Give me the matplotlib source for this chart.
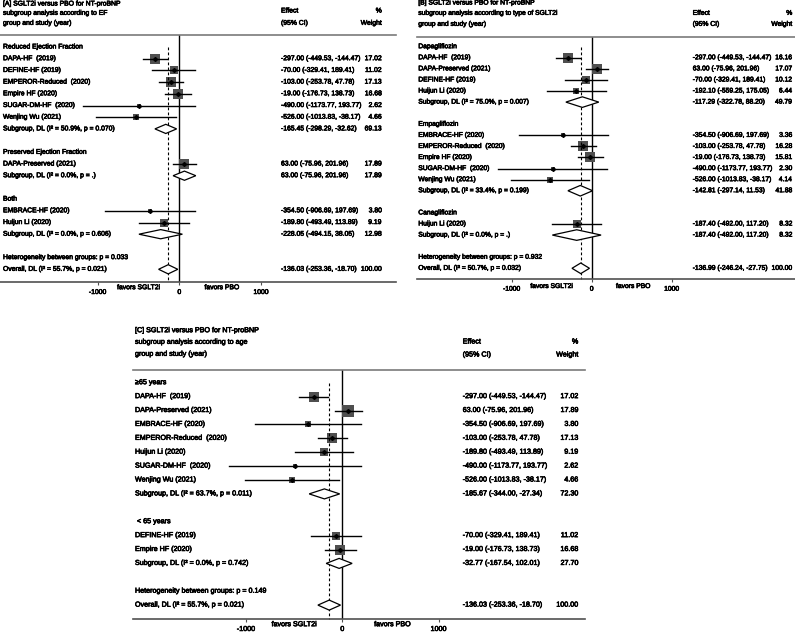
import matplotlib
matplotlib.use("Agg")
import matplotlib.pyplot as plt
import matplotlib.patheffects as pe
from matplotlib.patches import Polygon
from matplotlib.transforms import blended_transform_factory

plt.rcParams["font.family"] = ["Liberation Sans", "DejaVu Sans"]

W, H, DPI = 795, 633, 100

# ----------------------------------------
# Panel A : by ejection fraction
# ----------------------------------------
a_title = ["[A] SGLT2i versus PBO for NT-proBNP",
           "subgroup analysis according to EF",
           "group and study (year)"]
a_labels = ["Reduced Ejection Fraction", "DAPA-HF  (2019)", "DEFINE-HF (2019)",
            "EMPEROR-Reduced  (2020)", "Empire HF (2020)", "SUGAR-DM-HF  (2020)",
            "Wenjing Wu (2021)", "Subgroup, DL (I² = 50.9%, p = 0.070)", "",
            "Preserved Ejection Fraction", "DAPA-Preserved (2021)",
            "Subgroup, DL (I² = 0.0%, p = .)", "",
            "Both", "EMBRACE-HF (2020)", "Huijun Li (2020)",
            "Subgroup, DL (I² = 0.0%, p = 0.606)", "",
            "Heterogeneity between groups: p = 0.033",
            "Overall, DL (I² = 55.7%, p = 0.021)"]
a_kind = ["g", "s", "s", "s", "s", "s", "s", "d", "",
          "g", "s", "d", "",
          "g", "s", "s", "d", "",
          "t", "o"]
a_est = [None, -297.00, -70.00, -103.00, -19.00, -490.00, -526.00, -165.45, None,
         None, 63.00, 63.00, None,
         None, -354.50, -189.80, -228.05, None,
         None, -136.03]
a_lo = [None, -449.53, -329.41, -253.78, -176.73, -1173.77, -1013.83, -298.29, None,
        None, -75.96, -75.96, None,
        None, -906.69, -493.49, -494.15, None,
        None, -253.36]
a_hi = [None, -144.47, 189.41, 47.78, 138.73, 193.77, -38.17, -32.62, None,
        None, 201.96, 201.96, None,
        None, 197.69, 113.89, 38.05, None,
        None, -18.70]
a_wt = [None, 17.02, 11.02, 17.13, 16.68, 2.62, 4.66, 69.13, None,
        None, 17.89, 17.89, None,
        None, 3.80, 9.19, 12.98, None,
        None, 100.00]

# ----------------------------------------
# Panel B : by type of SGLT2i
# ----------------------------------------
b_title = ["[B] SGLT2i versus PBO for NT-proBNP",
           "subgroup analysis according to type of SGLT2i",
           "group and study (year)"]
b_labels = ["Dapagliflozin", "DAPA-HF  (2019)", "DAPA-Preserved (2021)",
            "DEFINE-HF (2019)", "Huijun Li (2020)",
            "Subgroup, DL (I² = 75.0%, p = 0.007)", "",
            "Empagliflozin", "EMBRACE-HF (2020)", "EMPEROR-Reduced  (2020)",
            "Empire HF (2020)", "SUGAR-DM-HF  (2020)", "Wenjing Wu (2021)",
            "Subgroup, DL (I² = 33.4%, p = 0.199)", "",
            "Canagliflozin", "Huijun Li (2020)", "Subgroup, DL (I² = 0.0%, p = .)", "",
            "Heterogeneity between groups: p = 0.932",
            "Overall, DL (I² = 50.7%, p = 0.032)"]
b_kind = ["g", "s", "s", "s", "s", "d", "",
          "g", "s", "s", "s", "s", "s", "d", "",
          "g", "s", "d", "",
          "t", "o"]
b_est = [None, -297.00, 63.00, -70.00, -192.10, -117.29, None,
         None, -354.50, -103.00, -19.00, -490.00, -526.00, -142.81, None,
         None, -187.40, -187.40, None,
         None, -136.99]
b_lo = [None, -449.53, -75.96, -329.41, -559.25, -322.78, None,
        None, -906.69, -253.78, -176.73, -1173.77, -1013.83, -297.14, None,
        None, -492.00, -492.00, None,
        None, -246.24]
b_hi = [None, -144.47, 201.96, 189.41, 175.05, 88.20, None,
        None, 197.69, 47.78, 138.73, 193.77, -38.17, 11.53, None,
        None, 117.20, 117.20, None,
        None, -27.75]
b_wt = [None, 16.16, 17.07, 10.12, 6.44, 49.79, None,
        None, 3.36, 16.28, 15.81, 2.30, 4.14, 41.88, None,
        None, 8.32, 8.32, None,
        None, 100.00]

# ----------------------------------------
# Panel C : by age
# ----------------------------------------
c_title = ["[C] SGLT2i versus PBO for NT-proBNP",
           "subgroup analysis according to age",
           "group and study (year)"]
c_labels = ["≥65 years", "DAPA-HF  (2019)", "DAPA-Preserved (2021)", "EMBRACE-HF (2020)",
            "EMPEROR-Reduced  (2020)", "Huijun Li (2020)", "SUGAR-DM-HF  (2020)",
            "Wenjing Wu (2021)", "Subgroup, DL (I² = 63.7%, p = 0.011)", "",
            " < 65 years", "DEFINE-HF (2019)", "Empire HF (2020)",
            "Subgroup, DL (I² = 0.0%, p = 0.742)", "",
            "Heterogeneity between groups: p = 0.149",
            "Overall, DL (I² = 55.7%, p = 0.021)"]
c_kind = ["g", "s", "s", "s", "s", "s", "s", "s", "d", "",
          "g", "s", "s", "d", "",
          "t", "o"]
c_est = [None, -297.00, 63.00, -354.50, -103.00, -189.80, -490.00, -526.00, -185.67, None,
         None, -70.00, -19.00, -32.77, None,
         None, -136.03]
c_lo = [None, -449.53, -75.96, -906.69, -253.78, -493.49, -1173.77, -1013.83, -344.00, None,
        None, -329.41, -176.73, -167.54, None,
        None, -253.36]
c_hi = [None, -144.47, 201.96, 197.69, 47.78, 113.89, 193.77, -38.17, -27.34, None,
        None, 189.41, 138.73, 102.01, None,
        None, -18.70]
c_wt = [None, 17.02, 17.89, 3.80, 17.13, 9.19, 2.62, 4.66, 72.30, None,
        None, 11.02, 16.68, 27.70, None,
        None, 100.00]

ticks = [-1000, 0, 1000]
sq_grey = '#4f4f4f'
rule_grey = '#7a7a7a'
bold_fx = [pe.withStroke(linewidth=0.45, foreground="black")]


def px(x):
    return x / W


def py(y):
    return 1 - y / H


def forest(fig, g, title, labels, kind, est, lo, hi, wt):
    # g holds the pixel geometry of one panel
    ax = fig.add_axes([px(g["x0"]), py(g["ybot"]),
                       (g["x1"] - g["x0"]) / W, (g["ybot"] - g["ytop"]) / H])
    scale = g["per1000"] / 1000.0
    ax.set_xlim((g["x0"] - g["zero"]) / scale, (g["x1"] - g["zero"]) / scale)
    ybottom = (g["ybot"] - g["row0"]) / g["dy"]
    ax.set_ylim(ybottom, (g["ytop"] - g["row0"]) / g["dy"])
    txt = dict(fontsize=g["fs"], path_effects=bold_fx)

    for s in ["left", "right"]:
        ax.spines[s].set_visible(False)
    ax.spines["top"].set_color(rule_grey)
    ax.spines["top"].set_linewidth(1.2)
    ax.spines["bottom"].set_color('#505050')
    ax.spines["bottom"].set_linewidth(1.2)
    ax.set_yticks([])
    ax.set_xticks(ticks)
    ax.set_xticklabels([str(t) for t in ticks])
    ax.tick_params(axis="x", direction="out", length=2.2, width=0.8,
                   color='#505050', pad=g["tpad"], labelsize=g["fs"])
    for lbl in ax.get_xticklabels():
        lbl.set_path_effects(bold_fx)

    # header block
    for line, y in zip(title, g["title_y"]):
        fig.text(px(g["label_x"]), py(y), line, va="center", ha="left", **txt)
    fig.text(px(g["eff_x"]), py(g["head_y"][0]), "Effect", va="center", **txt)
    fig.text(px(g["eff_x"]), py(g["head_y"][1]), "(95% CI)", va="center", **txt)
    fig.text(px(g["wt_x"]), py(g["head_y"][0]), "%", va="center", ha="right", **txt)
    fig.text(px(g["wt_x"]), py(g["head_y"][1]), "Weight", va="center", ha="right", **txt)

    tr = blended_transform_factory(fig.transFigure, ax.transData)
    ax.axvline(0, color="black", lw=1.0, zorder=1)

    overall = None
    for i, k in enumerate(kind):
        if labels[i]:
            ax.text(px(g["label_x"]), i, labels[i], transform=tr,
                    va="center", ha="left", **txt)
        if est[i] is None:
            continue
        ax.text(px(g["eff_x"]), i, f"{est[i]:.2f} ({lo[i]:.2f}, {hi[i]:.2f})",
                transform=tr, va="center", ha="left", **txt)
        ax.text(px(g["wt_x"]), i, f"{wt[i]:.2f}", transform=tr,
                va="center", ha="right", **txt)
        if k == "s":
            side = g["k_sq"] * wt[i] ** 0.5 * 72.0 / DPI
            ax.plot(est[i], i, marker="s", ms=side, mfc=sq_grey, mec=sq_grey,
                    mew=0, ls="none", zorder=2)
            ax.plot([lo[i], hi[i]], [i, i], color="black", lw=1.0, zorder=3)
            ax.plot(est[i], i, marker="D", ms=2.0, color="black", ls="none", zorder=4)
        else:
            h = g["dia_h"] / g["dy"]
            ax.add_patch(Polygon([(lo[i], i), (est[i], i - h), (hi[i], i), (est[i], i + h)],
                                 closed=True, facecolor="white", edgecolor="black",
                                 lw=0.9, zorder=3))
            if k == "o":
                overall = est[i]

    ax.plot([overall, overall], [0, ybottom], color="black", lw=0.8,
            ls=(0, (2.5, 2)), zorder=2.5, clip_on=False)

    for text, xv in [("favors SGLT2i", -500), ("favors PBO", 520)]:
        ax.annotate(text, xy=(xv, 0), xycoords=("data", "axes fraction"),
                    xytext=(0, -g["fav_dy"]), textcoords="offset pixels",
                    ha="center", va="center", **txt)
    return ax


geo_a = dict(x0=0, x1=396, ytop=35, ybot=282.3, zero=179.3, per1000=81.7,
             row0=47, dy=11.7, label_x=3, eff_x=281, wt_x=381.7,
             title_y=[4, 13.3, 23.3], head_y=[11, 23.3], k_sq=2.35, dia_h=4.6,
             fav_dy=5.4, tpad=2.6, fs=4.9)
geo_b = dict(x0=417, x1=795, ytop=36.7, ybot=279, zero=591.7, per1000=80,
             row0=46.7, dy=11.08, label_x=418.3, eff_x=692.7, wt_x=792.3,
             title_y=[3, 13.3, 24.3], head_y=[13.3, 24.3], k_sq=2.5, dia_h=5.3,
             fav_dy=7.5, tpad=2.6, fs=4.85)
geo_c = dict(x0=133, x1=585, ytop=370, ybot=619.3, zero=342.3, per1000=96.3,
             row0=382.7, dy=13.9, label_x=135, eff_x=462.7, wt_x=578.3,
             title_y=[330.7, 342.3, 354.3], head_y=[342, 355], k_sq=2.65, dia_h=5.0,
             fav_dy=5.4, tpad=2.6, fs=5.15)

fig = plt.figure(figsize=(W / DPI, H / DPI), dpi=DPI)
forest(fig, geo_a, a_title, a_labels, a_kind, a_est, a_lo, a_hi, a_wt)
forest(fig, geo_b, b_title, b_labels, b_kind, b_est, b_lo, b_hi, b_wt)
forest(fig, geo_c, c_title, c_labels, c_kind, c_est, c_lo, c_hi, c_wt)
fig.savefig("out.png", dpi=DPI)
